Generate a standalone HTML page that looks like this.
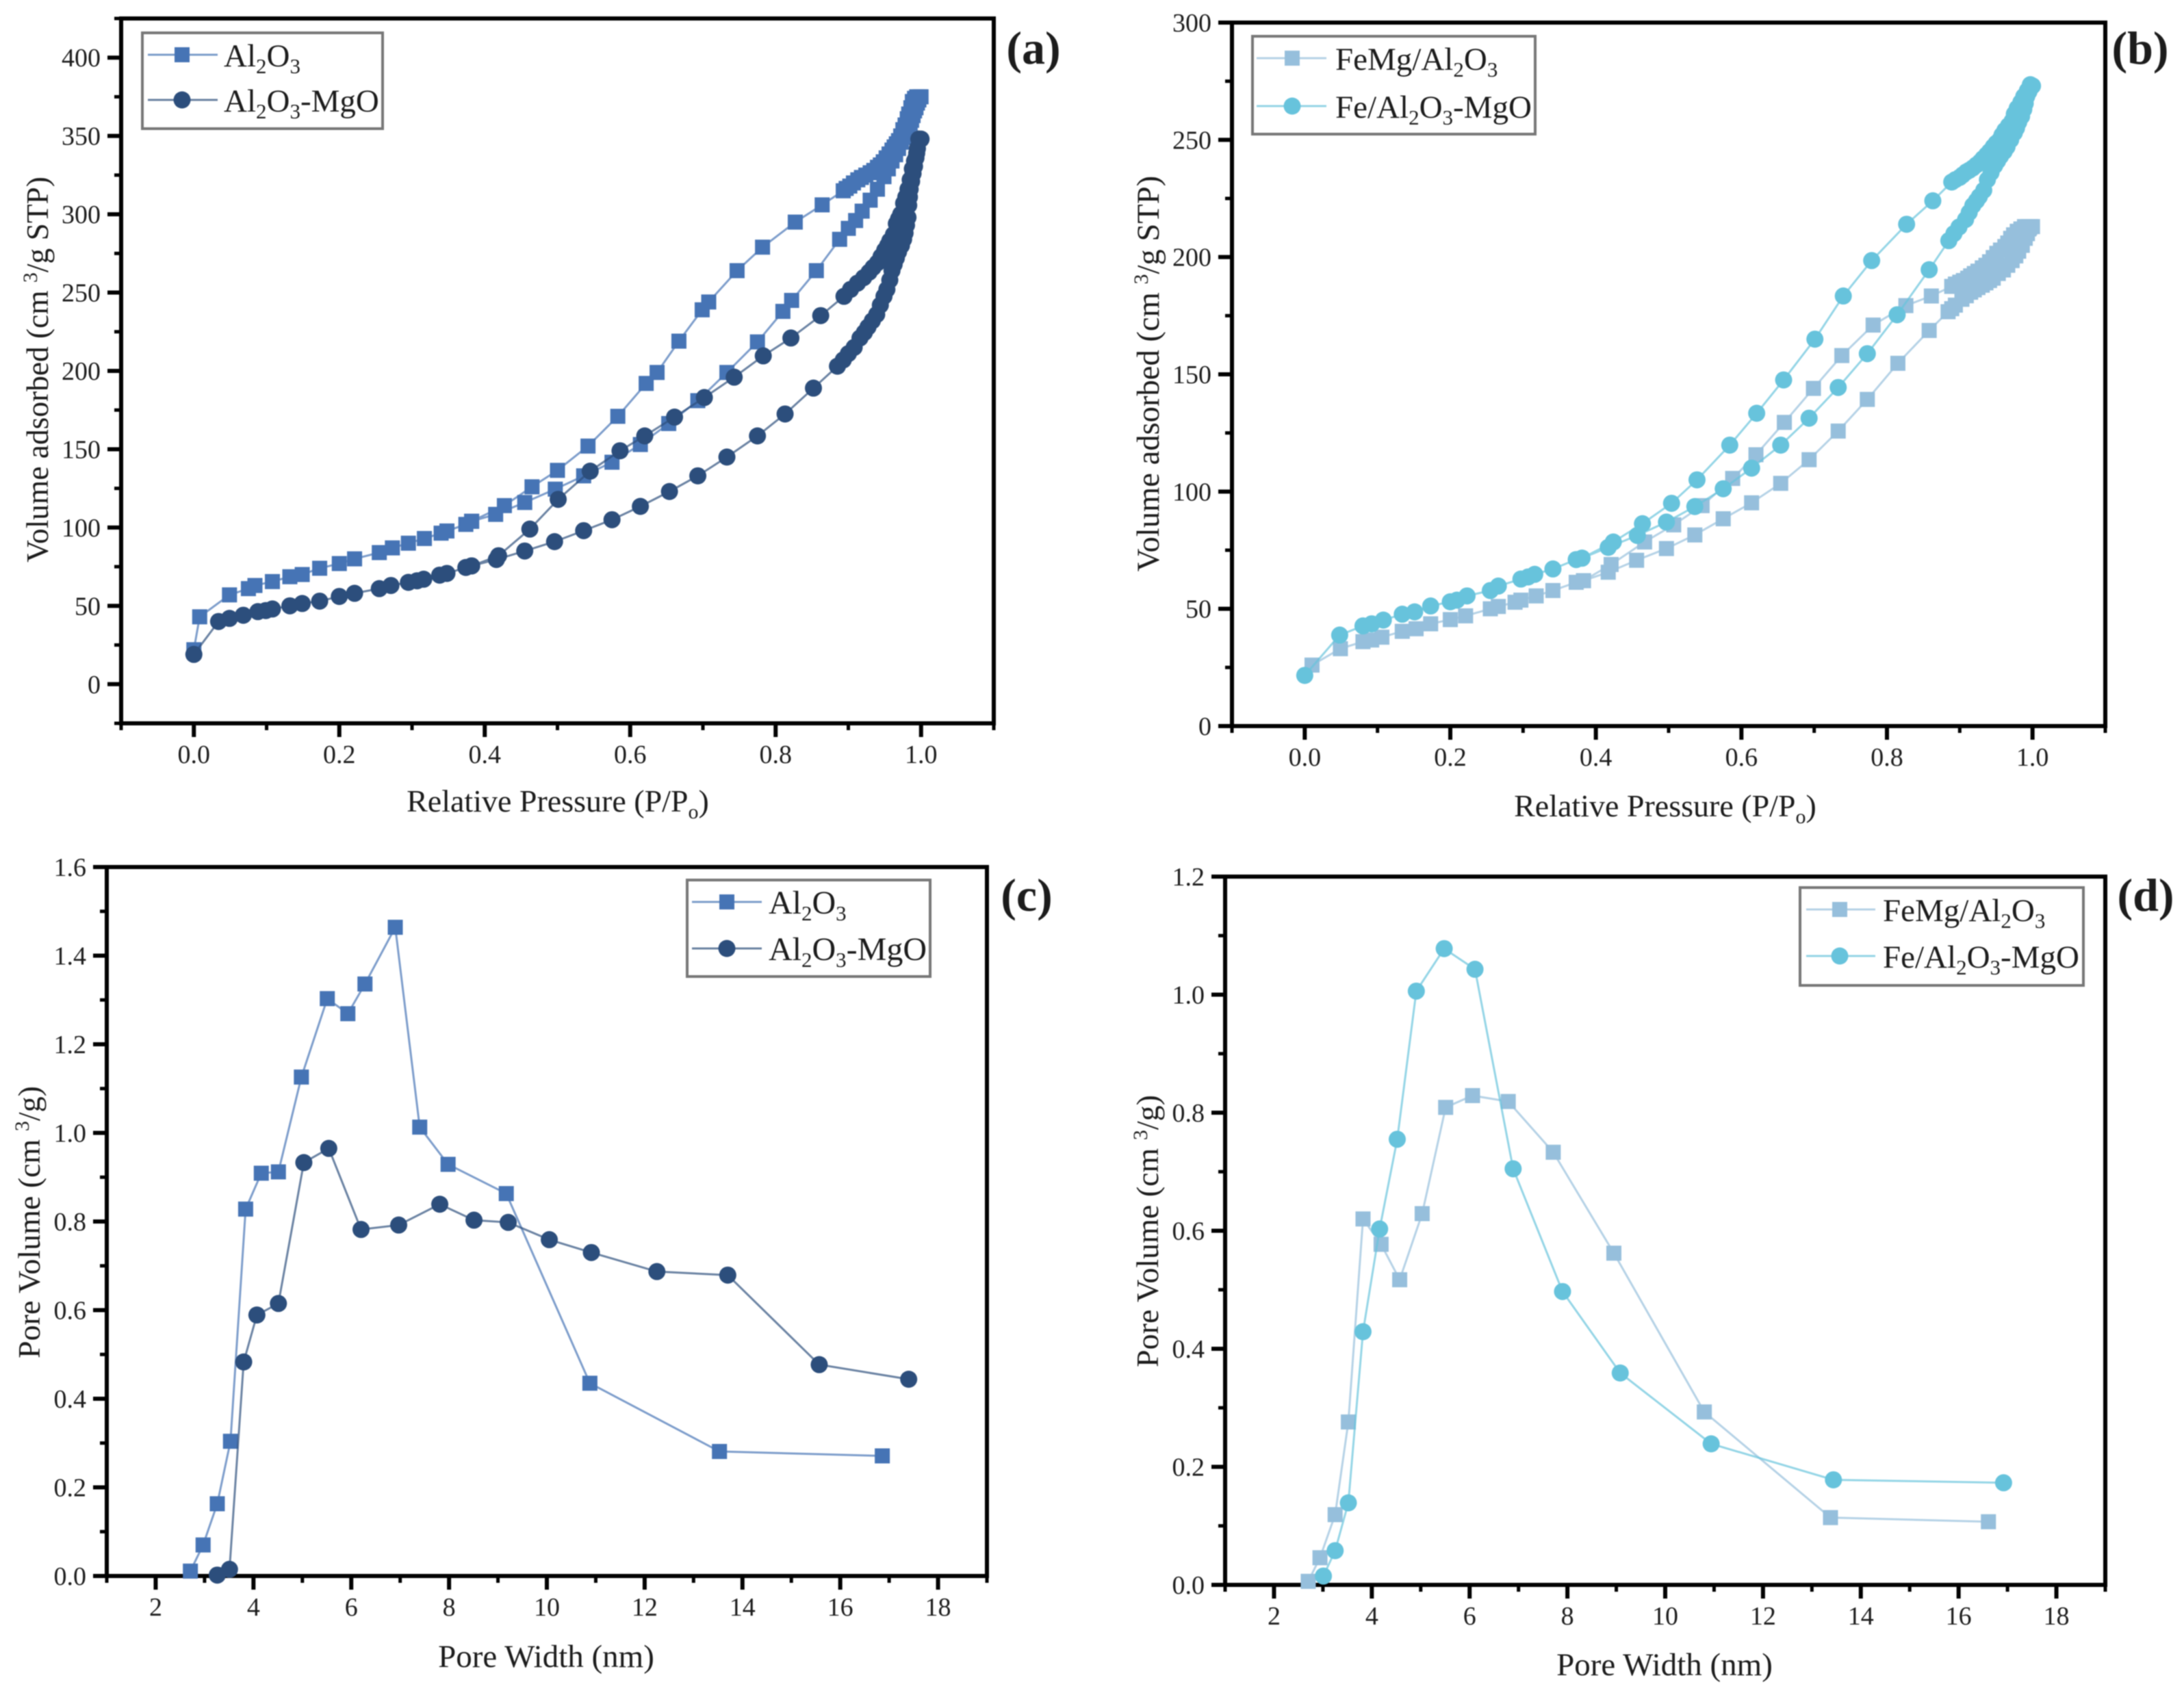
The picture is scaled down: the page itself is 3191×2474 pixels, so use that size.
<!DOCTYPE html>
<html lang="en">
<head>
<meta charset="utf-8">
<title>Nitrogen adsorption isotherms and pore size distributions</title>
<style>
  html, body { margin: 0; padding: 0; background: #fff; }
  #figure { display: block; width: 3191px; height: 2474px; filter: blur(0.8px); font-family: "Liberation Serif", serif; fill: #1c1c1c; }
  .frame { fill: none; stroke: #000; stroke-width: 6; }
  .legend-box { fill: #fff; stroke: #777; stroke-width: 4; }
  .axis-title { font-size: 46px; }
  .legend-text { font-size: 47px; }
  .panel-label { font-size: 68px; font-weight: bold; }
</style>
</head>
<body>
<svg id="figure" xmlns="http://www.w3.org/2000/svg" width="3191" height="2474" viewBox="0 0 3191 2474">
  <rect width="3191" height="2474" fill="#fff"/>

  <g id="panel-a">
    <rect class="frame" x="177" y="27" width="1275" height="1030"/>
    <text class="axis-title" style="font-size:45.4px" text-anchor="middle" transform="translate(70 540) rotate(-90)">Volume adsorbed (cm <tspan dy="-16" font-size="30">3</tspan><tspan dy="16">/g STP)</tspan></text>
    <text class="axis-title" x="815" y="1186" text-anchor="middle">Relative Pressure (P/P<tspan dy="10" font-size="30">o</tspan><tspan dy="-10">)</tspan></text>
    <text class="panel-label" x="1510" y="93" text-anchor="middle">(a)</text>
  </g>

  <g id="panel-b">
    <rect class="frame" x="1800" y="33" width="1276" height="1028"/>
    <text class="axis-title" style="font-size:46.6px" text-anchor="middle" transform="translate(1693 546) rotate(-90)">Volume adsorbed (cm <tspan dy="-16" font-size="30">3</tspan><tspan dy="16">/g STP)</tspan></text>
    <text class="axis-title" x="2433" y="1193" text-anchor="middle">Relative Pressure (P/P<tspan dy="10" font-size="30">o</tspan><tspan dy="-10">)</tspan></text>
    <text class="panel-label" x="3127" y="93" text-anchor="middle">(b)</text>
  </g>

  <g id="panel-c">
    <rect class="frame" x="156" y="1267" width="1286" height="1036"/>
    <text class="axis-title" text-anchor="middle" transform="translate(58 1786) rotate(-90)">Pore Volume (cm <tspan dy="-16" font-size="30">3</tspan><tspan dy="16">/g)</tspan></text>
    <text class="axis-title" style="font-size:47px" x="798" y="2436" text-anchor="middle">Pore Width (nm)</text>
    <text class="panel-label" x="1500" y="1331" text-anchor="middle">(c)</text>
  </g>

  <g id="panel-d">
    <rect class="frame" x="1790" y="1281" width="1286" height="1035"/>
    <text class="axis-title" text-anchor="middle" transform="translate(1692 1799) rotate(-90)">Pore Volume (cm <tspan dy="-16" font-size="30">3</tspan><tspan dy="16">/g)</tspan></text>
    <text class="axis-title" style="font-size:47px" x="2432" y="2448" text-anchor="middle">Pore Width (nm)</text>
    <text class="panel-label" x="3135" y="1331" text-anchor="middle">(d)</text>
  </g>

  <g id="legends">
    <g>
      <rect class="legend-box" x="208" y="48" width="351" height="140"/>
      <line x1="216" x2="318" y1="80" y2="80" stroke="#4674b5" stroke-width="3" opacity="0.7"/>
      <rect x="255" y="69" width="22" height="22" fill="#4674b5"/>
      <text class="legend-text" x="327" y="97">Al<tspan dy="10" font-size="31">2</tspan><tspan dy="-10">O</tspan><tspan dy="10" font-size="31">3</tspan></text>
      <line x1="216" x2="318" y1="146" y2="146" stroke="#2c4e7c" stroke-width="3" opacity="0.7"/>
      <circle cx="266" cy="146" r="12.5" fill="#2c4e7c"/>
      <text class="legend-text" x="327" y="163">Al<tspan dy="10" font-size="31">2</tspan><tspan dy="-10">O</tspan><tspan dy="10" font-size="31">3</tspan><tspan dy="-10">-MgO</tspan></text>
    </g>
    <g>
      <rect class="legend-box" x="1830" y="53" width="413" height="143"/>
      <line x1="1836" x2="1938" y1="85" y2="85" stroke="#96bfdc" stroke-width="3" opacity="0.7"/>
      <rect x="1877" y="74" width="22" height="22" fill="#96bfdc"/>
      <text class="legend-text" x="1951" y="102">FeMg/Al<tspan dy="10" font-size="31">2</tspan><tspan dy="-10">O</tspan><tspan dy="10" font-size="31">3</tspan></text>
      <line x1="1836" x2="1938" y1="155" y2="155" stroke="#67c3dc" stroke-width="3" opacity="0.7"/>
      <circle cx="1888" cy="155" r="12.5" fill="#67c3dc"/>
      <text class="legend-text" x="1951" y="172">Fe/Al<tspan dy="10" font-size="31">2</tspan><tspan dy="-10">O</tspan><tspan dy="10" font-size="31">3</tspan><tspan dy="-10">-MgO</tspan></text>
    </g>
    <g>
      <rect class="legend-box" x="1004" y="1286" width="355" height="141"/>
      <line x1="1011" x2="1113" y1="1318" y2="1318" stroke="#4674b5" stroke-width="3" opacity="0.7"/>
      <rect x="1051" y="1307" width="22" height="22" fill="#4674b5"/>
      <text class="legend-text" style="font-size:48px" x="1123" y="1335">Al<tspan dy="10" font-size="31">2</tspan><tspan dy="-10">O</tspan><tspan dy="10" font-size="31">3</tspan></text>
      <line x1="1011" x2="1113" y1="1386" y2="1386" stroke="#2c4e7c" stroke-width="3" opacity="0.7"/>
      <circle cx="1062" cy="1386" r="12.5" fill="#2c4e7c"/>
      <text class="legend-text" style="font-size:48px" x="1123" y="1403">Al<tspan dy="10" font-size="31">2</tspan><tspan dy="-10">O</tspan><tspan dy="10" font-size="31">3</tspan><tspan dy="-10">-MgO</tspan></text>
    </g>
    <g>
      <rect class="legend-box" x="2630" y="1297" width="414" height="143"/>
      <line x1="2639" x2="2740" y1="1329" y2="1329" stroke="#96bfdc" stroke-width="3" opacity="0.7"/>
      <rect x="2677" y="1318" width="22" height="22" fill="#96bfdc"/>
      <text class="legend-text" x="2751" y="1346">FeMg/Al<tspan dy="10" font-size="31">2</tspan><tspan dy="-10">O</tspan><tspan dy="10" font-size="31">3</tspan></text>
      <line x1="2639" x2="2740" y1="1397" y2="1397" stroke="#67c3dc" stroke-width="3" opacity="0.7"/>
      <circle cx="2688" cy="1397" r="12.5" fill="#67c3dc"/>
      <text class="legend-text" x="2751" y="1414">Fe/Al<tspan dy="10" font-size="31">2</tspan><tspan dy="-10">O</tspan><tspan dy="10" font-size="31">3</tspan><tspan dy="-10">-MgO</tspan></text>
    </g>
  </g>
</svg>

<script>
// ---- Shared tick values ----
const isoXMajor = [0, 0.2, 0.4, 0.6, 0.8, 1.0];
const isoXLabels = ['0.0', '0.2', '0.4', '0.6', '0.8', '1.0'];
const isoXMinor = [-0.1, 0.1, 0.3, 0.5, 0.7, 0.9, 1.1];
const poreXMajor = [2, 4, 6, 8, 10, 12, 14, 16, 18];
const poreXLabels = ['2', '4', '6', '8', '10', '12', '14', '16', '18'];
const poreXMinor = [1, 3, 5, 7, 9, 11, 13, 15, 17, 19];

const aYMajor = [0, 50, 100, 150, 200, 250, 300, 350, 400];
const aYLabels = ['0', '50', '100', '150', '200', '250', '300', '350', '400'];
const aYMinor = [-25, 25, 75, 125, 175, 225, 275, 325, 375, 425];
const bYMajor = [0, 50, 100, 150, 200, 250, 300];
const bYLabels = ['0', '50', '100', '150', '200', '250', '300'];
const bYMinor = [25, 75, 125, 175, 225, 275];
const cYMajor = [0, 0.2, 0.4, 0.6, 0.8, 1.0, 1.2, 1.4, 1.6];
const cYLabels = ['0.0', '0.2', '0.4', '0.6', '0.8', '1.0', '1.2', '1.4', '1.6'];
const cYMinor = [0.1, 0.3, 0.5, 0.7, 0.9, 1.1, 1.3, 1.5];
const dYMajor = [0, 0.2, 0.4, 0.6, 0.8, 1.0, 1.2];
const dYLabels = ['0.0', '0.2', '0.4', '0.6', '0.8', '1.0', '1.2'];
const dYMinor = [0.1, 0.3, 0.5, 0.7, 0.9, 1.1];

// ---- Panel (a) series ----
const aAl2O3Pressure = [0, 0.008, 0.049, 0.075, 0.084, 0.108, 0.132, 0.149, 0.173, 0.2, 0.221, 0.255, 0.273, 0.295, 0.317, 0.34, 0.348, 0.374, 0.382, 0.415, 0.455, 0.497, 0.536, 0.575, 0.614, 0.653, 0.693, 0.733, 0.775, 0.81, 0.822, 0.856,
  0.888, 0.9, 0.91, 0.919, 0.93, 0.94, 0.949, 0.955, 0.96, 0.965, 0.969, 0.973, 0.976, 0.979, 0.982, 0.985, 0.987, 0.989, 0.991, 0.993, 0.995, 0.997, 0.999, 1.0,
  0.997, 0.994, 0.991, 0.988, 0.986, 0.983, 0.981, 0.978, 0.975, 0.972, 0.969, 0.966, 0.963, 0.96, 0.956, 0.952, 0.948, 0.944, 0.94, 0.935, 0.93, 0.924, 0.918, 0.913, 0.907, 0.902, 0.897, 0.893,
  0.864, 0.827, 0.782, 0.747, 0.708, 0.699, 0.667, 0.637, 0.622, 0.583, 0.542, 0.5, 0.465, 0.427, 0.382];
const aAl2O3Volume = [22, 43, 57, 61, 63, 65.5, 68.6, 70, 74, 77, 80, 84, 87, 90, 93, 96.4, 97.8, 102, 104, 108.4, 116, 124.5, 133, 141.7, 153, 166.4, 181, 199, 218.5, 238, 245, 264,
  284, 291, 296, 302, 309, 316, 324, 329, 334, 338, 342, 346, 349, 352, 355, 358, 360, 363, 366, 368, 371, 373, 375, 375,
  375, 375, 374, 372, 368, 364, 361, 357, 354, 350, 347, 345, 343, 341, 338.5, 336, 333.5, 331.5, 330, 328, 326.5, 325, 323.5, 322, 320, 318, 316.5, 315,
  306, 295, 279, 264, 244, 239, 219, 199, 192, 171, 152, 136.5, 126, 114, 104];
const aMgOPressure = [0, 0.034, 0.049, 0.068, 0.088, 0.099, 0.108, 0.132, 0.149, 0.173, 0.2, 0.221, 0.255, 0.271, 0.295, 0.307, 0.316, 0.338, 0.348, 0.374, 0.382, 0.416, 0.455, 0.496, 0.536, 0.575, 0.614, 0.654, 0.693, 0.733, 0.775, 0.813, 0.852,
  0.885, 0.893, 0.9, 0.908, 0.916, 0.922, 0.927, 0.933, 0.939, 0.944, 0.949, 0.953, 0.957, 0.96, 0.963, 0.966, 0.969, 0.973, 0.976, 0.978, 0.98, 0.982, 0.983, 0.984, 0.985, 0.987, 0.989, 0.991, 0.993, 0.995, 0.997, 1.0,
  0.997, 0.994, 0.991, 0.988, 0.985, 0.982, 0.979, 0.976, 0.972, 0.969, 0.966, 0.962, 0.957, 0.954, 0.95, 0.945, 0.94, 0.934, 0.9285, 0.921, 0.9125, 0.903, 0.894,
  0.862, 0.821, 0.783, 0.743, 0.702, 0.661, 0.62, 0.586, 0.545, 0.501, 0.462, 0.419, 0.382];
const aMgOVolume = [19, 40, 42, 44, 46.3, 47, 48, 50, 51.5, 53, 56, 58, 61, 63, 65, 66, 67, 69.6, 70.7, 74.5, 75.5, 79.6, 85, 91, 98, 105, 113.5, 123, 133, 145, 158.5, 172.5, 189,
  203, 207, 211, 215, 221, 224.5, 228, 232, 236, 242, 247.6, 252, 258, 264, 268, 272, 276, 280, 284, 288, 293, 298, 305.7, 311, 316, 321, 326, 330.6, 336, 342, 348, 348,
  348, 339, 334, 329, 322, 316, 311, 307, 300, 297, 294, 287, 283, 280, 277, 273, 269, 266, 263, 259.5, 256, 252, 247.6,
  235.3, 221, 209.6, 196, 183, 170.5, 158.5, 149, 136, 118, 99, 82, 75.5];

// ---- Panel (b) series ----
const bFeMgPressure = [0.01, 0.049, 0.08, 0.092, 0.106, 0.134, 0.153, 0.173, 0.2, 0.221, 0.255, 0.266, 0.289, 0.297, 0.318, 0.341, 0.373, 0.383, 0.417, 0.456, 0.497, 0.536, 0.575, 0.614, 0.654, 0.693, 0.733, 0.773, 0.815, 0.858,
  0.884, 0.889, 0.894, 0.903, 0.909, 0.915, 0.92, 0.925, 0.931, 0.936, 0.941, 0.946, 0.953, 0.96, 0.966, 0.972, 0.977, 0.981, 0.986, 0.99, 0.993, 0.995, 0.996, 0.997, 1.0,
  0.994, 0.989, 0.984, 0.979, 0.974, 0.97, 0.966, 0.962, 0.956, 0.951, 0.946, 0.941, 0.936, 0.931, 0.925, 0.92, 0.915, 0.911, 0.905, 0.9, 0.894, 0.889,
  0.861, 0.826, 0.781, 0.738, 0.699, 0.659, 0.62, 0.588, 0.546, 0.507, 0.467, 0.421, 0.383];
const bFeMgVolume = [26, 33, 36, 36.7, 37.9, 40.4, 41.5, 43.6, 45.4, 47, 50, 51, 52.8, 53.7, 55.5, 57.8, 61.3, 62, 65.6, 70.7, 75.7, 81.5, 88.4, 95.2, 103.5, 113.6, 125.8, 139.3, 154.7, 168.7,
  176.7, 178, 179.5, 182, 183.5, 185, 186, 187, 188, 189, 190, 191, 193, 194.5, 196.5, 198.5, 200.5, 202.5, 205, 208, 210, 212, 212.5, 213, 213,
  213, 213, 212, 211, 209.5, 208, 206, 204.5, 203, 201.6, 199.8, 198, 196.5, 195.4, 194, 193, 192, 191, 190, 189.3, 188.5, 187.5,
  183.4, 179.3, 171, 158, 144, 129.5, 115.7, 105.6, 94, 85.8, 78.5, 68.9, 62];
const bFePressure = [0, 0.048, 0.08, 0.092, 0.108, 0.134, 0.151, 0.173, 0.2, 0.209, 0.223, 0.255, 0.266, 0.297, 0.307, 0.316, 0.341, 0.373, 0.381, 0.417, 0.457, 0.497, 0.536, 0.575, 0.614, 0.654, 0.693, 0.733, 0.773, 0.814, 0.858,
  0.885, 0.892, 0.899, 0.908, 0.913, 0.918, 0.923, 0.927, 0.933, 0.938, 0.943, 0.948, 0.952, 0.956, 0.961, 0.965, 0.97, 0.975, 0.978, 0.981, 0.985, 0.988, 0.99, 0.992, 0.995, 0.997, 1.0,
  0.997, 0.993, 0.988, 0.984, 0.979, 0.975, 0.972, 0.967, 0.962, 0.958, 0.955, 0.95, 0.946, 0.941, 0.937, 0.932, 0.928, 0.923, 0.918, 0.913, 0.909, 0.904, 0.9, 0.894, 0.889,
  0.863, 0.827, 0.779, 0.74, 0.701, 0.658, 0.621, 0.584, 0.539, 0.504, 0.464, 0.424, 0.381];
const bFeVolume = [21.6, 38.8, 42.7, 43.6, 45.2, 47.7, 48.7, 51.2, 53, 53.7, 55.5, 57.8, 59.7, 62.7, 63.6, 64.7, 67, 71, 71.6, 76.2, 81.3, 87, 93.6, 101.2, 110, 119.8, 131.3, 144.4, 158.8, 175.4, 194.6,
  207, 210, 212.8, 216, 219, 222, 224, 225.8, 228.5, 233, 236, 239, 241, 243, 245, 247, 250, 253, 255, 257.5, 260, 263, 265.5, 268.5, 270.5, 272, 273,
  273.5, 271, 268.5, 266, 263.5, 261, 258, 256, 254, 252, 250, 248.5, 247, 245, 243.6, 242, 240.6, 239.3, 238, 237, 236.3, 235, 234, 233, 232,
  224, 214, 198.5, 183.4, 165, 147.6, 133.4, 119.8, 105, 95, 86.3, 78.5, 71.6];

// ---- Panel (c) series ----
const cAl2O3Width = [2.71, 2.97, 3.26, 3.53, 3.84, 4.16, 4.51, 4.98, 5.51, 5.93, 6.28, 6.9, 7.4, 7.98, 9.17, 10.88, 13.53, 16.86];
const cAl2O3Volume = [0.011, 0.07, 0.163, 0.304, 0.828, 0.909, 0.912, 1.126, 1.303, 1.269, 1.336, 1.464, 1.013, 0.929, 0.863, 0.435, 0.281, 0.271];
const cMgOWidth = [3.26, 3.51, 3.8, 4.07, 4.51, 5.03, 5.54, 6.2, 6.97, 7.81, 8.51, 9.21, 10.05, 10.91, 12.25, 13.7, 15.57, 17.4];
const cMgOVolume = [0.002, 0.015, 0.483, 0.589, 0.615, 0.933, 0.965, 0.782, 0.792, 0.839, 0.803, 0.798, 0.759, 0.73, 0.687, 0.679, 0.477, 0.444];

// ---- Panel (d) series ----
const dFeMgWidth = [2.7, 2.94, 3.25, 3.52, 3.82, 4.19, 4.57, 5.03, 5.51, 6.06, 6.79, 7.71, 8.95, 10.8, 13.38, 16.61];
const dFeMgVolume = [0.006, 0.046, 0.119, 0.276, 0.62, 0.577, 0.517, 0.629, 0.809, 0.829, 0.819, 0.733, 0.562, 0.293, 0.114, 0.107];
const dFeWidth = [3.01, 3.25, 3.52, 3.82, 4.16, 4.52, 4.91, 5.48, 6.11, 6.89, 7.9, 9.08, 10.94, 13.44, 16.92];
const dFeVolume = [0.015, 0.058, 0.139, 0.429, 0.603, 0.755, 1.006, 1.078, 1.043, 0.705, 0.497, 0.359, 0.239, 0.178, 0.173];

const SVG_NS = 'http://www.w3.org/2000/svg';

function makeScale(d0, d1, r0, r1) {
  return function (v) { return r0 + (v - d0) / (d1 - d0) * (r1 - r0); };
}

function make(tag, parent, props) {
  const el = document.createElementNS(SVG_NS, tag);
  for (const k in props) { el.setAttribute(k, props[k]); }
  parent.appendChild(el);
  return el;
}

function drawAxes(cfg, group, sx, sy) {
  const suffix = cfg.key;
  cfg.xMajor.forEach(function (v, i) {
    const tick = make('line', group, { x1: sx(v), x2: sx(v), y1: cfg.bottom, y2: cfg.bottom + 20, stroke: '#000', 'stroke-width': 6 });
    
    
    const label = make('text', group, { x: sx(v), y: cfg.bottom + 58, 'text-anchor': 'middle', 'font-size': 38 });
    label.textContent = cfg.xLabels[i];
    
    
  });
  cfg.xMinor.forEach(function (v) {
    const tick = make('line', group, { x1: sx(v), x2: sx(v), y1: cfg.bottom, y2: cfg.bottom + 10, stroke: '#000', 'stroke-width': 5 });
    
    
  });
  cfg.yMajor.forEach(function (v, i) {
    const tick = make('line', group, { x1: cfg.left - 20, x2: cfg.left, y1: sy(v), y2: sy(v), stroke: '#000', 'stroke-width': 6 });
    
    
    const label = make('text', group, { x: cfg.left - 30, y: sy(v) + 13, 'text-anchor': 'end', 'font-size': 38 });
    label.textContent = cfg.yLabels[i];
    
    
  });
  cfg.yMinor.forEach(function (v) {
    const tick = make('line', group, { x1: cfg.left - 10, x2: cfg.left, y1: sy(v), y2: sy(v), stroke: '#000', 'stroke-width': 5 });
    
    
  });
}

function drawSeries(s, group, sx, sy) {
  const pts = s.xs.map(function (x, i) { return sx(x) + ',' + sy(s.ys[i]); }).join(' ');
  const line = make('polyline', group, { points: pts, fill: 'none', stroke: s.color, 'stroke-width': 3, opacity: 0.7 });
  
  
  s.xs.forEach(function (x, i) {
    let mark;
    if (s.shape === 'square') {
      mark = make('rect', group, { x: sx(x) - 11, y: sy(s.ys[i]) - 11, width: 22, height: 22, fill: s.color });
    } else {
      mark = make('circle', group, { cx: sx(x), cy: sy(s.ys[i]), r: 12.5, fill: s.color });
    }
    
    
  });
}

function drawPanel(cfg) {
  const group = document.getElementById('panel-' + cfg.key);
  const sx = makeScale(cfg.xDomain[0], cfg.xDomain[1], cfg.left, cfg.right);
  const sy = makeScale(cfg.yDomain[0], cfg.yDomain[1], cfg.bottom, cfg.top);
  drawAxes(cfg, group, sx, sy);
  cfg.series.forEach(function (s) { drawSeries(s, group, sx, sy); });
}

const BLUE = '#4674b5', NAVY = '#2c4e7c', PALE = '#96bfdc', CYAN = '#67c3dc';

drawPanel({ key: 'a', left: 177, right: 1452, top: 27, bottom: 1057, xDomain: [-0.1, 1.1], yDomain: [-25, 425],
  xMajor: isoXMajor, xLabels: isoXLabels, xMinor: isoXMinor, yMajor: aYMajor, yLabels: aYLabels, yMinor: aYMinor,
  series: [
    { name: 'a-al2o3', shape: 'square', color: BLUE, xs: aAl2O3Pressure, ys: aAl2O3Volume },
    { name: 'a-al2o3-mgo', shape: 'circle', color: NAVY, xs: aMgOPressure, ys: aMgOVolume }
  ] });

drawPanel({ key: 'b', left: 1800, right: 3076, top: 33, bottom: 1061, xDomain: [-0.1, 1.1], yDomain: [0, 300],
  xMajor: isoXMajor, xLabels: isoXLabels, xMinor: isoXMinor, yMajor: bYMajor, yLabels: bYLabels, yMinor: bYMinor,
  series: [
    { name: 'b-femg-al2o3', shape: 'square', color: PALE, xs: bFeMgPressure, ys: bFeMgVolume },
    { name: 'b-fe-al2o3-mgo', shape: 'circle', color: CYAN, xs: bFePressure, ys: bFeVolume }
  ] });

drawPanel({ key: 'c', left: 156, right: 1442, top: 1267, bottom: 2303, xDomain: [1, 19], yDomain: [0, 1.6],
  xMajor: poreXMajor, xLabels: poreXLabels, xMinor: poreXMinor, yMajor: cYMajor, yLabels: cYLabels, yMinor: cYMinor,
  series: [
    { name: 'c-al2o3', shape: 'square', color: BLUE, xs: cAl2O3Width, ys: cAl2O3Volume },
    { name: 'c-al2o3-mgo', shape: 'circle', color: NAVY, xs: cMgOWidth, ys: cMgOVolume }
  ] });

drawPanel({ key: 'd', left: 1790, right: 3076, top: 1281, bottom: 2316, xDomain: [1, 19], yDomain: [0, 1.2],
  xMajor: poreXMajor, xLabels: poreXLabels, xMinor: poreXMinor, yMajor: dYMajor, yLabels: dYLabels, yMinor: dYMinor,
  series: [
    { name: 'd-femg-al2o3', shape: 'square', color: PALE, xs: dFeMgWidth, ys: dFeMgVolume },
    { name: 'd-fe-al2o3-mgo', shape: 'circle', color: CYAN, xs: dFeWidth, ys: dFeVolume }
  ] });
</script>
</body>
</html>
